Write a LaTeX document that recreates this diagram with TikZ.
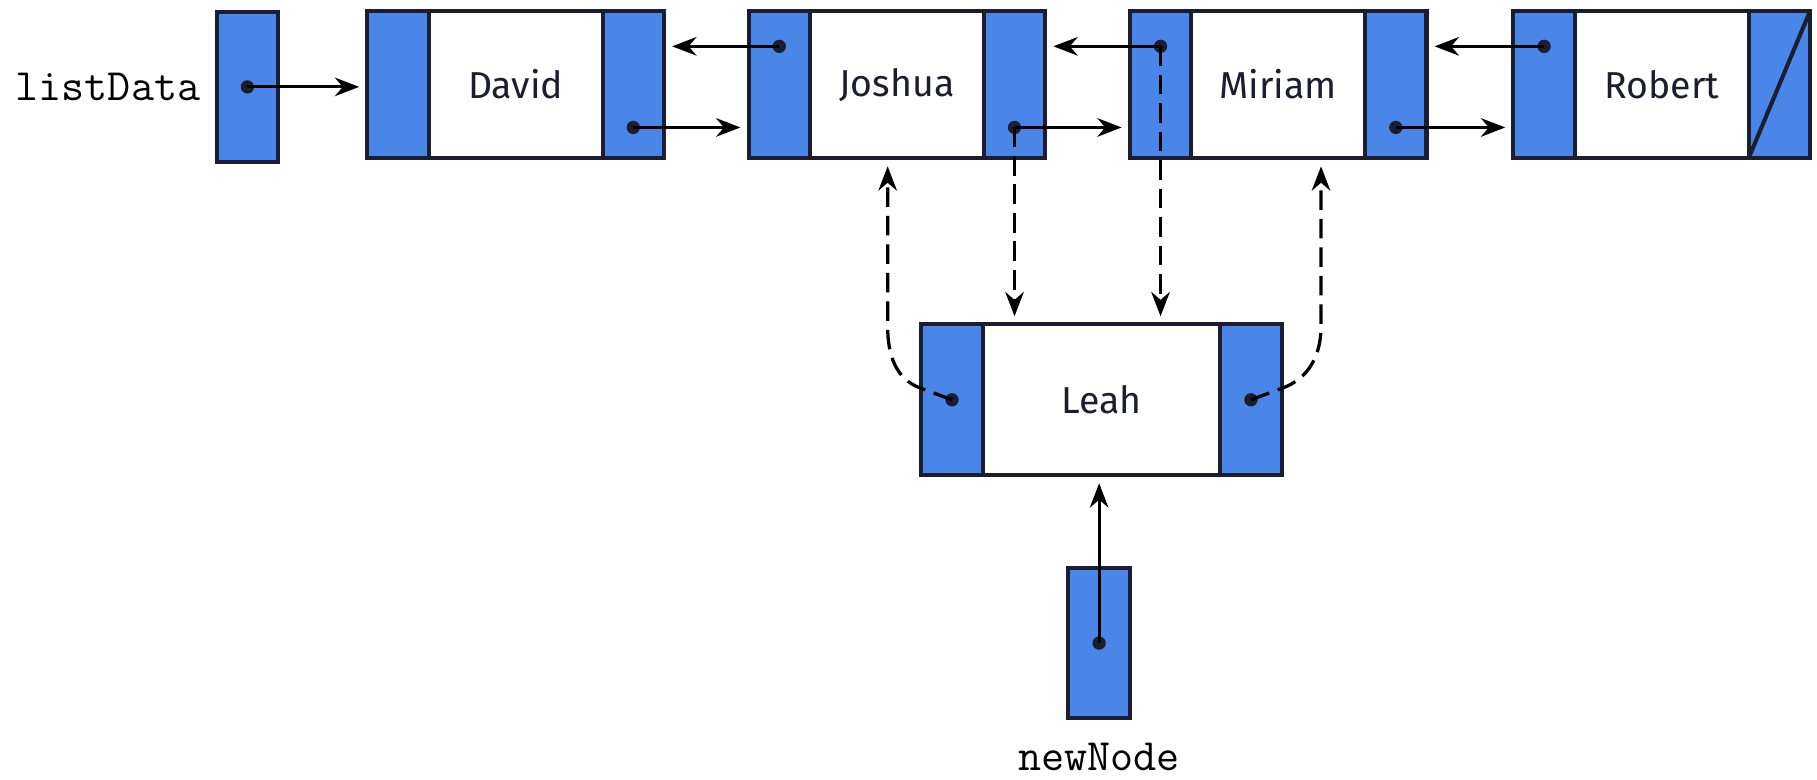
\documentclass[tikz,border=0pt]{standalone}
\usepackage{fontspec}
\newfontfamily\namefont{Fira Sans}
\usetikzlibrary{positioning,arrows.meta,calc}
\definecolor{cellblue}{RGB}{74,134,232}
\definecolor{edge}{RGB}{28,30,48}
\tikzset{
        ptr/.style={draw=edge, fill=cellblue, line width=1pt, outer sep=0pt,
                minimum width=0.53cm, minimum height=1.27cm, inner sep=0pt},
        info/.style={draw=edge, fill=white, line width=1pt, outer sep=0pt,
                minimum width=1.5cm, minimum height=1.27cm, inner sep=0pt,
                text=edge, font=\namefont\fontsize{9.2}{11}\selectfont},
        link/.style={-{Stealth[length=2.1mm,width=1.6mm]}, line width=0.75pt,
                shorten >=2pt},
        dlink/.style={link, line width=0.8pt, dash pattern=on 4.8pt off 2.2pt},
        pt/.style={circle, fill=edge, inner sep=0pt, minimum size=1.15mm},
        var/.style={inner sep=1pt, font=\ttfamily\fontsize{11}{13}\selectfont}
}
\begin{document}
\begin{tikzpicture}
        \useasboundingbox (0,0) rectangle (15.68,6.73);
        \node[ptr, minimum height=1.3cm] (list) at (2.135,5.98) {};
        \node[var, left=0.1cm of list] (listlabel) {listData};
        \node[ptr] (davidL) at (3.435,6) {};
        \node[info, right=0pt of davidL] (david) {David};
        \node[ptr, right=0pt of david] (davidR) {};
        \node[ptr, right=0.73cm of davidR] (joshuaL) {};
        \node[info, right=0pt of joshuaL] (joshua) {Joshua};
        \node[ptr, right=0pt of joshua] (joshuaR) {};
        \node[ptr, right=0.73cm of joshuaR] (miriamL) {};
        \node[info, right=0pt of miriamL] (miriam) {Miriam};
        \node[ptr, right=0pt of miriam] (miriamR) {};
        \node[ptr, right=0.75cm of miriamR] (robertL) {};
        \node[info, right=0pt of robertL] (robert) {Robert};
        \node[ptr, right=0pt of robert] (robertR) {};
        \draw[edge, line width=1pt] (robertR.south west) -- (robertR.north east);
        \node[ptr, minimum height=1.3cm] (leahL) at (8.215,3.28) {};
        \node[info, minimum width=2.05cm, minimum height=1.3cm,
                right=0pt of leahL] (leah) {Leah};
        \node[ptr, minimum height=1.3cm, right=0pt of leah] (leahR) {};
        \node[ptr, minimum height=1.3cm] (new) at (9.485,1.18) {};
        \node[var, below=0.17cm of new] (newlabel) {newNode};
        \node[pt] (listdot) at (list) {};
        \node[pt] (davidF) at ($(davidR)+(0,-0.37)$) {};
        \node[pt] (joshuaB) at ($(joshuaL)+(0,0.33)$) {};
        \node[pt] (joshuaF) at ($(joshuaR)+(0,-0.37)$) {};
        \node[pt] (miriamB) at ($(miriamL)+(0,0.33)$) {};
        \node[pt] (miriamF) at ($(miriamR)+(0,-0.37)$) {};
        \node[pt] (robertB) at ($(robertL)+(0,0.33)$) {};
        \node[pt] (leahB) at (leahL) {};
        \node[pt] (leahF) at (leahR) {};
        \node[pt] (newdot) at (new) {};
        \coordinate (joshuaUp) at ($(joshua.south)+(-0.08,0)$);
        \coordinate (miriamUp) at ($(miriam.south)+(0.37,0)$);
        \draw[link] (listdot.center) -- (davidL.west |- listdot);
        \draw[link] (davidF.center) -- (joshuaL.west |- davidF);
        \draw[link] (joshuaF.center) -- (miriamL.west |- joshuaF);
        \draw[link] (miriamF.center) -- (robertL.west |- miriamF);
        \draw[link] (joshuaB.center) -- (davidR.east |- joshuaB);
        \draw[link] (miriamB.center) -- (joshuaR.east |- miriamB);
        \draw[link] (robertB.center) -- (miriamR.east |- robertB);
        \draw[dlink] (joshuaF.center) -- (joshuaF |- leah.north);
        \draw[dlink] (miriamB.center) -- (miriamB |- leah.north);
        \draw[dlink] (leahB.center) -- ++(-0.27,0.1) to[out=160,in=-90]
                ($(joshuaUp)+(0,-1.45)$) -- (joshuaUp);
        \draw[dlink] (leahF.center) -- ++(0.27,0.1) to[out=20,in=-90]
                ($(miriamUp)+(0,-1.45)$) -- (miriamUp);
        \draw[link] (newdot.center) -- (newdot |- leah.south);
\end{tikzpicture}
\end{document}
